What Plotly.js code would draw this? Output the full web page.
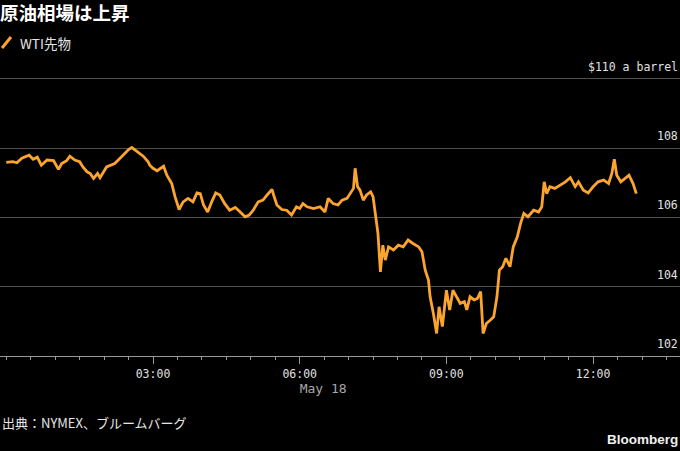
<!DOCTYPE html>
<html>
<head>
<meta charset="utf-8">
<script src="https://cdn.plot.ly/plotly-3.0.1.min.js"></script>
<style>
  html, body { margin: 0; padding: 0; background: #000; }
  #chart { width: 680px; height: 451px; }
</style>
</head>
<body>
<div id="chart"></div>
<script>
  // WTI futures, May 18 (times are local clock readings)
  const DAY = "2022-05-18 ";

  const times = [
    "00:00", "00:08", "00:13", "00:19", "00:28", "00:33", "00:38", "00:43", "00:50", "00:58",
    "01:04", "01:08", "01:14", "01:18", "01:24", "01:30", "01:34", "01:39", "01:43", "01:47",
    "01:52", "01:55", "02:03", "02:13", "02:22", "02:30", "02:34", "02:40", "02:48", "02:54",
    "02:56", "03:00", "03:05", "03:13", "03:17", "03:23", "03:27", "03:32", "03:37", "03:43",
    "03:49", "03:54", "03:58", "04:02", "04:07", "04:12", "04:17", "04:22", "04:28", "04:34",
    "04:41", "04:47", "04:53", "04:58", "05:03", "05:09", "05:15", "05:20", "05:26", "05:28",
    "05:32", "05:38", "05:44", "05:50", "05:56", "06:00", "06:04", "06:09", "06:17", "06:25",
    "06:31", "06:35", "06:41", "06:47", "06:52", "06:58", "07:02", "07:06", "07:08", "07:11",
    "07:14", "07:18", "07:22", "07:27", "07:30", "07:34", "07:36", "07:39", "07:42", "07:45",
    "07:49", "07:55", "08:01", "08:07", "08:13", "08:19", "08:26", "08:30", "08:34", "08:38",
    "08:40", "08:44", "08:48", "08:51", "08:55", "09:00", "09:04", "09:08", "09:12", "09:17",
    "09:22", "09:25", "09:29", "09:34", "09:38", "09:42", "09:45", "09:49", "09:54", "09:58",
    "10:02", "10:05", "10:09", "10:13", "10:18", "10:22", "10:27", "10:31", "10:35", "10:40",
    "10:47", "10:53", "10:57", "11:00", "11:03", "11:07", "11:13", "11:19", "11:26", "11:32",
    "11:38", "11:42", "11:48", "11:54", "12:00", "12:06", "12:13", "12:19", "12:23", "12:26",
    "12:29", "12:34", "12:39", "12:44", "12:49", "12:53"
  ];

  const prices = [
    107.59, 107.61, 107.58, 107.71, 107.80, 107.68, 107.74, 107.51, 107.66, 107.64,
    107.39, 107.56, 107.64, 107.77, 107.66, 107.61, 107.46, 107.32, 107.27, 107.13,
    107.27, 107.15, 107.46, 107.56, 107.77, 107.96, 108.02, 107.92, 107.77, 107.61,
    107.51, 107.42, 107.35, 107.48, 107.22, 106.98, 106.60, 106.23, 106.45, 106.55,
    106.45, 106.71, 106.69, 106.36, 106.16, 106.45, 106.71, 106.65, 106.40, 106.21,
    106.29, 106.16, 106.02, 106.07, 106.21, 106.45, 106.50, 106.65, 106.81, 106.65,
    106.36, 106.23, 106.21, 106.07, 106.31, 106.26, 106.40, 106.31, 106.26, 106.31,
    106.16, 106.55, 106.40, 106.36, 106.50, 106.55, 106.69, 106.84, 107.42, 106.89,
    106.79, 106.50, 106.65, 106.74, 106.60, 105.93, 105.54, 104.43, 105.20, 104.77,
    105.15, 105.06, 105.20, 105.15, 105.35, 105.25, 105.15, 105.01, 104.48, 104.19,
    103.71, 103.23, 102.65, 103.42, 102.85, 103.90, 103.33, 103.90, 103.71, 103.52,
    103.57, 103.33, 103.71, 103.62, 103.66, 103.86, 102.65, 102.94, 103.04, 103.13,
    103.71, 104.48, 104.58, 104.82, 104.58, 105.15, 105.44, 105.83, 106.12, 106.02,
    106.21, 106.16, 106.31, 107.03, 106.69, 106.89, 106.84, 106.93, 107.03, 107.15,
    106.89, 107.03, 106.79, 106.71, 106.89, 107.03, 107.08, 106.98, 107.27, 107.68,
    107.22, 107.03, 107.13, 107.22, 106.98, 106.69
  ];

  const xTickTimes = ["03:00", "06:00", "09:00", "12:00"];
  const xTickText = [
    "03:00",
    "06:00<br><span style='color:#a8a8a8;font-size:13px'>" +
      "&nbsp;&nbsp;&nbsp;&nbsp;&nbsp;&nbsp;May 18</span>",
    "09:00",
    "12:00",
  ];

  const yTickVals = [102, 104, 106, 108, 110];
  const yTickText = ["102", "104", "106", "108", "$110 a barrel"];

  const ORANGE = "#fba42e";
  const GRID = "#505050";
  const MONO = "DejaVu Sans Mono, monospace";
  const CJK = "Noto Sans CJK JP, sans-serif";

  const trace = {
    x: times.map((t) => DAY + t),
    y: prices,
    type: "scatter",
    mode: "lines",
    line: { color: ORANGE, width: 2.8 },
    hoverinfo: "skip",
    showlegend: false,
  };

  // Price labels sit above their gridlines at the right edge. They are
  // annotations because inside tick labels would hide the 12:00 x label.
  const yLabels = yTickVals.map((v, i) => ({
    text: yTickText[i],
    xref: "paper",
    yref: "y",
    x: 1,
    y: v,
    xanchor: "right",
    yanchor: "middle",
    yshift: 12,
    showarrow: false,
    font: { family: MONO, size: 11.5, color: "#e0e0e0" },
  }));

  // the plot area runs from y=62px to y=356px; header/footer are placed
  // relative to it in paper units
  const PLOT_TOP = 62;
  const PLOT_H = 294;
  const py = (px) => (PLOT_TOP + PLOT_H - px) / PLOT_H;

  const layout = {
    width: 680,
    height: 451,
    paper_bgcolor: "#000",
    plot_bgcolor: "#000",
    margin: { l: 0, r: 0, t: PLOT_TOP, b: 451 - PLOT_TOP - PLOT_H },
    showlegend: false,
    title: {
      text: "<b>原油相場は上昇</b>",
      x: 0,
      xref: "container",
      xanchor: "left",
      y: 1 - 14 / 451,
      yref: "container",
      yanchor: "middle",
      font: { family: CJK, size: 18.5, color: "#fff" },
    },
    xaxis: {
      type: "date",
      range: ["2022-05-17 23:52:16", "2022-05-18 13:46:36"],
      tickmode: "array",
      tickvals: xTickTimes.map((t) => DAY + t),
      ticktext: xTickText,
      ticks: "outside",
      ticklen: 7,
      tickwidth: 1,
      tickcolor: "#9a9a9a",
      showline: true,
      linecolor: "#9a9a9a",
      linewidth: 1,
      showgrid: false,
      zeroline: false,
      fixedrange: true,
      tickfont: { family: MONO, size: 11.5, color: "#e0e0e0" },
      minor: {
        tickmode: "linear",
        tick0: DAY + "00:30",
        dtick: 30 * 60 * 1000,
        ticks: "outside",
        ticklen: 3,
        tickcolor: "#9a9a9a",
        showgrid: false,
      },
    },
    yaxis: {
      side: "right",
      range: [102, 110.49],
      tickmode: "array",
      tickvals: yTickVals,
      showticklabels: false,
      ticks: "",
      showgrid: true,
      gridcolor: GRID,
      gridwidth: 1,
      zeroline: false,
      showline: false,
      fixedrange: true,
    },
    // legend key: a short slanted stroke
    shapes: [
      {
        type: "line",
        xref: "paper", yref: "paper",
        x0: 2 / 680, y0: py(48),
        x1: 11 / 680, y1: py(37),
        line: { color: ORANGE, width: 3 },
      },
    ],
    annotations: yLabels.concat([
      {
        text: "WTI先物",
        xref: "paper", yref: "paper",
        x: 18 / 680, y: py(43),
        xanchor: "left", yanchor: "middle",
        showarrow: false,
        font: { family: CJK, size: 13.5, color: "#e6e6e6" },
      },
      {
        text: "出典：NYMEX、ブルームバーグ",
        xref: "paper", yref: "paper",
        x: 0, y: py(422),
        xanchor: "left", yanchor: "middle",
        showarrow: false,
        font: { family: CJK, size: 13, color: "#e6e6e6" },
      },
      {
        text: "<b>Bloomberg</b>",
        xref: "paper", yref: "paper",
        x: 1, y: py(440),
        xanchor: "right", yanchor: "middle",
        showarrow: false,
        font: { family: "Liberation Sans, Arial, sans-serif", size: 13.5, color: "#f0f0f0" },
      },
    ]),
  };

  Plotly.newPlot("chart", [trace], layout, { displayModeBar: false, staticPlot: true });
</script>
</body>
</html>
